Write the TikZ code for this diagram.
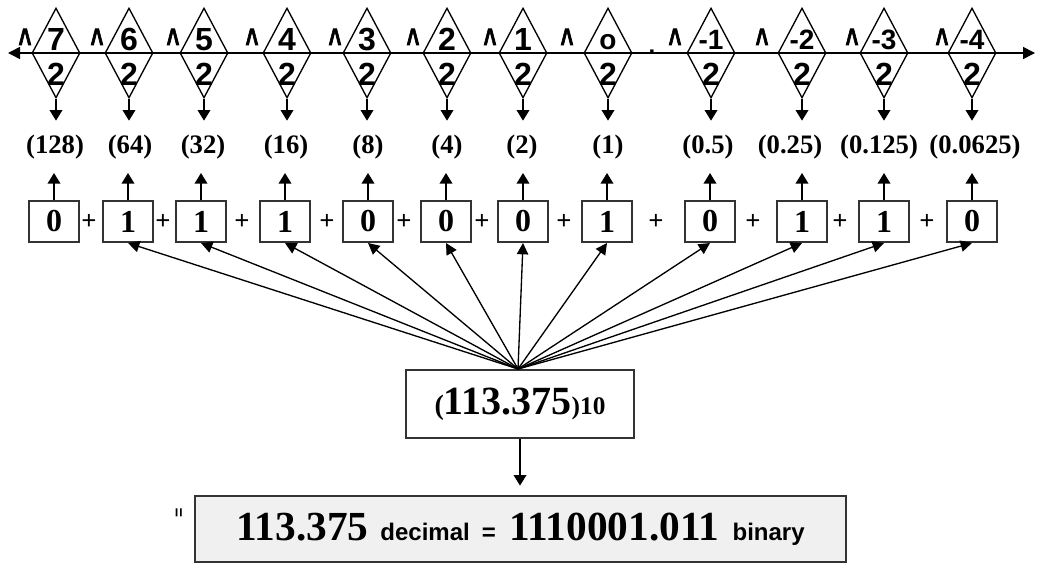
\documentclass[tikz,border=0pt]{standalone}
\usepackage{fontspec}
\usepackage{graphicx}
\setmainfont{Liberation Serif}
\setsansfont{Liberation Sans}
\newfontfamily\caretfont{Liberation Sans}[FakeBold=3]
\usetikzlibrary{shapes.geometric,arrows.meta}
\definecolor{edge}{HTML}{333333}
\definecolor{resfill}{HTML}{F0F0F0}
\newcommand{\fs}[1]{\fontsize{#1}{#1}\selectfont}
\newcommand{\powcaret}{\scalebox{0.62}[1.05]{\textasciicircum}}
\begin{document}
\begin{tikzpicture}[x=0.75pt,y=-0.75pt,line width=1.2pt,
  arr/.style={draw=black,-{Triangle[length=8pt,width=9.5pt]}},
  fanarr/.style={draw=black,line width=1pt,-{Triangle[length=8.5pt,width=8.5pt]}},
  expo/.style={draw=black,diamond,inner sep=0pt,minimum width=36pt,minimum height=67.5pt,line width=1pt},
  etxt/.style={inner sep=0pt,anchor=base,font=\sffamily\bfseries\fs{24}},
  entxt/.style={inner sep=0pt,anchor=base,font=\sffamily\bfseries\fs{21}},
  caret/.style={inner sep=0pt,anchor=north,font=\caretfont\bfseries\fs{26}},
  weight/.style={inner sep=0pt,anchor=base,font=\bfseries\fs{20}},
  bitbox/.style={draw=edge,line width=1.5pt,inner sep=0pt,minimum width=37.5pt,minimum height=30.75pt,font=\bfseries\fs{24}},
  plus/.style={inner sep=0pt,font=\bfseries\fs{20}},
  valbox/.style={draw=edge,line width=1.5pt,inner sep=0pt,minimum width=171pt,minimum height=51pt},
  resbox/.style={draw=edge,fill=resfill,line width=1.5pt,inner sep=0pt,minimum width=488pt,minimum height=49.5pt}]
\useasboundingbox (0,0) rectangle (1037,564);

% number line with the powers of two
\coordinate (axL) at (8,53);
\coordinate (axR) at (1035,53);
\foreach \i/\x in {1/56,2/129,3/204,4/287,5/367,6/447,7/523,8/608,9/711,10/802,11/884,12/972}
  \node[expo] (d\i) at (\x,53) {};
\draw[{Triangle[length=9pt,width=9pt]}-{Triangle[length=9pt,width=9pt]}] (axL) -- (axR);

\foreach \i/\x/\e/\c in {1/56/7/25,2/129/6/97,3/204/5/173,4/287/4/252,5/367/3/335,6/447/2/413,7/523/1/490} {
  \node[etxt] (e\i) at (\x,50) {\e};
  \node[caret] (k\i) at (\c,28) {\powcaret};
}
\node[etxt,font=\sffamily\bfseries\fs{21}] (e8) at (608,49) {o};
\node[caret] (k8) at (567,28) {\powcaret};
\foreach \i/\x/\e/\c in {9/711/-1/675,10/802/-2/762,11/884/-3/852,12/972/-4/942} {
  \node[entxt] (e\i) at (\x,49) {\e};
  \node[caret] (k\i) at (\c,28) {\powcaret};
}
\foreach \i/\x in {1/56,2/129,3/204,4/287,5/367,6/447,7/523,8/608,9/711,10/802,11/884,12/972}
  \node[etxt] (t\i) at (\x,85) {2};
\node[inner sep=0pt,font=\sffamily\bfseries\fs{18}] (pt) at (652,52) {.};

% place values
\foreach \i/\x/\v in {1/55/(128),2/130/(64),3/203/(32),4/286/(16),5/368/(8),6/447/(4),7/522/(2),8/608/(1),9/708/(0.5),10/790/(0.25),11/879/(0.125),12/975/(0.0625)}
  \node[weight] (v\i) at (\x,153) {\v};

% binary digits
\foreach \i/\x/\b in {1/54/0,2/128/1,3/201/1,4/285/1,5/368/0,6/446/0,7/523/0,8/607/1,9/710/0,10/802/1,11/884/1,12/972/0}
  \node[bitbox] (b\i) at (\x,221.5) {\b};
\foreach \x [count=\k] in {89,163,242,327,404,482,564,656,753,840,927}
  \node[plus] (p\k) at (\x,222) {+};

\foreach \i in {1,...,12} {
  \draw[arr] (d\i.south) -- ++(0,22);
  \draw[arr] (b\i.north) -- ++(0,-27);
}

% decimal value and result
\node[valbox] (c) at (520,404) {\bfseries{\fs{21}(}{\fs{30}113.375}{\fs{19})10}};
\coordinate (fan) at (518,369);
\foreach \i in {2,...,12}
  \draw[fanarr] (fan) -- (b\i.south);

\node[resbox] (r) at (520.5,529) {{\bfseries\fs{31}113.375}\hspace{9pt}{\sffamily\bfseries\fs{18}decimal\hspace{9pt}=}\hspace{10pt}{\bfseries\fs{31}1110001.011}\hspace{10pt}{\sffamily\bfseries\fs{18}binary}};
\draw[arr] (c.south) -- ([yshift=7pt]c.south |- r.north);
\node[inner sep=0pt,rotate=90,font=\sffamily\bfseries\fs{12}] (eq) at (180,513) {=};
\end{tikzpicture}
\end{document}
